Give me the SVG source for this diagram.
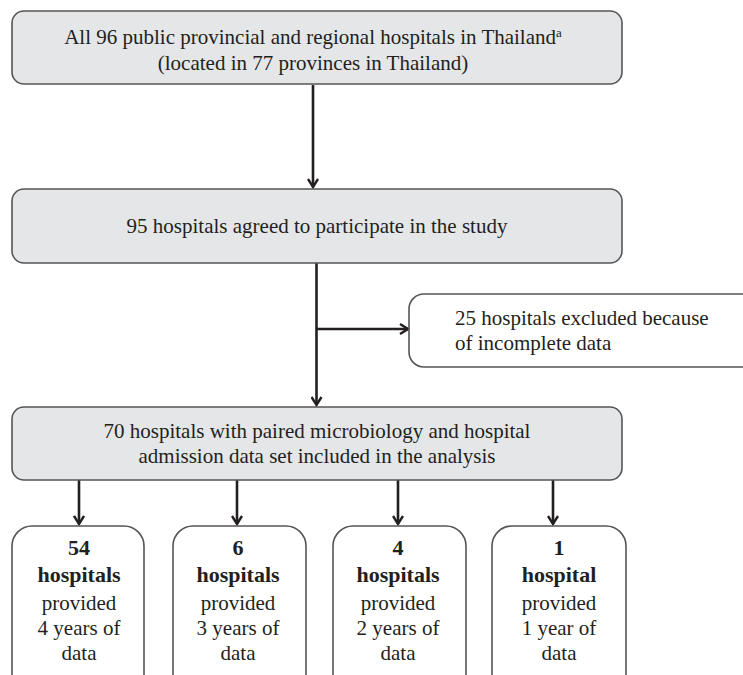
<svg xmlns="http://www.w3.org/2000/svg" width="743" height="675" viewBox="0 0 743 675">
<style>
.box{fill:#e5e6e8;stroke:#555;stroke-width:1.6}
.wbox{fill:#fff;stroke:#555;stroke-width:1.6}
.t{text-anchor:middle}
.b{font-weight:bold;font-size:22px}
.c{stroke:#231f20;stroke-width:2.6;fill:none}
</style>
<defs>
<marker id="ah" viewBox="0 0 12 12" refX="10" refY="6" markerWidth="12" markerHeight="12" markerUnits="userSpaceOnUse" orient="auto">
<path d="M2,1 L10,6 L2,11" fill="none" stroke="#231f20" stroke-width="2.4"/>
</marker>
</defs>
<rect width="743" height="675" fill="#fff"/>
<g id="connectors">
<line class="c" x1="313" y1="85" x2="313" y2="187" marker-end="url(#ah)"/>
<line class="c" x1="316.5" y1="263" x2="316.5" y2="405" marker-end="url(#ah)"/>
<line class="c" x1="316.5" y1="329" x2="408" y2="329" marker-end="url(#ah)"/>
<line class="c" x1="79" y1="480" x2="79" y2="524" marker-end="url(#ah)"/>
<line class="c" x1="237" y1="480" x2="237" y2="524" marker-end="url(#ah)"/>
<line class="c" x1="398" y1="480" x2="398" y2="524" marker-end="url(#ah)"/>
<line class="c" x1="553" y1="480" x2="553" y2="524" marker-end="url(#ah)"/>
</g>
<g font-family="Liberation Serif, Times New Roman, Times, DejaVu Serif, serif" font-size="21" fill="#231f20">
<g id="n1">
<rect class="box" x="12" y="11" width="610" height="73" rx="12"/>
<text class="t" x="313" y="44">All 96 public provincial and regional hospitals in Thailand<tspan font-size="13" dy="-7">a</tspan></text>
<text class="t" x="313" y="70">(located in 77 provinces in Thailand)</text>
</g>
<g id="n2">
<rect class="box" x="12" y="189" width="610" height="74" rx="12"/>
<text class="t" x="317" y="233">95 hospitals agreed to participate in the study</text>
</g>
<g id="n3">
<rect class="wbox" x="409" y="294" width="360" height="73" rx="15"/>
<text x="455" y="325">25 hospitals excluded because</text>
<text x="455" y="350">of incomplete data</text>
</g>
<g id="n4">
<rect class="box" x="12" y="407" width="610" height="73" rx="12"/>
<text class="t" x="317" y="438">70 hospitals with paired microbiology and hospital</text>
<text class="t" x="317" y="463">admission data set included in the analysis</text>
</g>
<g id="n5">
<rect class="wbox" x="12" y="526" width="132" height="170" rx="20"/>
<text class="t b" x="79" y="555">54</text>
<text class="t b" x="79" y="582">hospitals</text>
<text class="t" x="79" y="610">provided</text>
<text class="t" x="79" y="635">4 years of</text>
<text class="t" x="79" y="660">data</text>
</g>
<g id="n6">
<rect class="wbox" x="173" y="526" width="133" height="170" rx="20"/>
<text class="t b" x="238" y="555">6</text>
<text class="t b" x="238" y="582">hospitals</text>
<text class="t" x="238" y="610">provided</text>
<text class="t" x="238" y="635">3 years of</text>
<text class="t" x="238" y="660">data</text>
</g>
<g id="n7">
<rect class="wbox" x="333" y="526" width="133" height="170" rx="20"/>
<text class="t b" x="398" y="555">4</text>
<text class="t b" x="398" y="582">hospitals</text>
<text class="t" x="398" y="610">provided</text>
<text class="t" x="398" y="635">2 years of</text>
<text class="t" x="398" y="660">data</text>
</g>
<g id="n8">
<rect class="wbox" x="492" y="526" width="134" height="170" rx="20"/>
<text class="t b" x="559" y="555">1</text>
<text class="t b" x="559" y="582">hospital</text>
<text class="t" x="559" y="610">provided</text>
<text class="t" x="559" y="635">1 year of</text>
<text class="t" x="559" y="660">data</text>
</g>
</g>
</svg>
